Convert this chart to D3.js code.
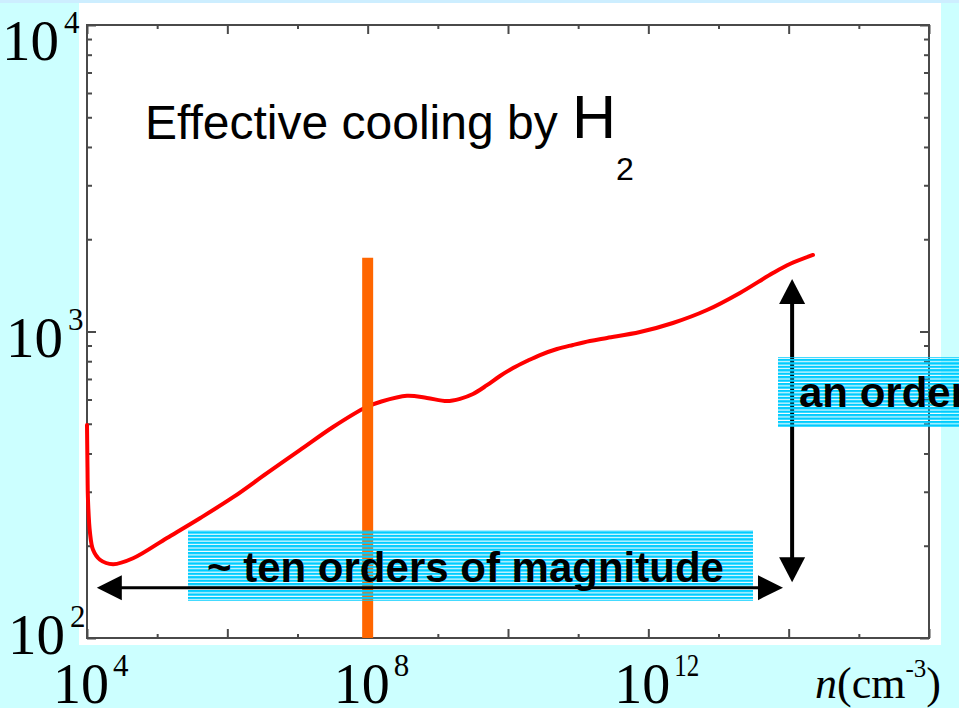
<!DOCTYPE html>
<html>
<head>
<meta charset="utf-8">
<script src="https://cdn.jsdelivr.net/npm/d3@7"></script>
<style>
  html, body { margin: 0; padding: 0; background: #ccffff; overflow: hidden; }
  svg { display: block; }
</style>
</head>
<body>
<svg id="chart" width="959" height="708"></svg>
<script>
// Density n (cm^-3) and effective temperature T (K) along the H2-cooling track
const density = [1e4, 1.016e4, 1.033e4, 1.104e4, 1.219e4, 1.531e4, 2.35e4, 4.53e4, 1.38e5,
  4.07e5, 1.21e6, 3.67e6, 1.08e7, 3.21e7, 9.77e7, 1.50e8, 3.63e8, 7.0e8, 1.35e9, 2.07e9,
  3.17e9, 5.01e9, 7.69e9, 1.18e10, 1.86e10, 2.86e10, 4.99e10, 8.43e10, 1.47e11, 2.58e11,
  7.60e11, 2.24e12, 6.86e12, 2.02e13, 5.97e13, 1.04e14, 2.22e14];
const temperature = [495, 361, 282, 220, 194, 180, 174, 182, 212,
  246, 288, 345, 410, 488, 568, 589, 617, 607, 593, 603,
  625, 668, 716, 760, 801, 838, 877, 904, 931, 953,
  996, 1066, 1175, 1336, 1552, 1660, 1777];

// Axis ticks
const xMajorTicks = [1e4, 1e6, 1e8, 1e10, 1e12, 1e14, 1e16];
const xMinorTicks = [1e5, 1e7, 1e9, 1e11, 1e13, 1e15];
const yMajorTicks = [1e2, 1e3, 1e4];
const yMinorTicks = [2e2, 3e2, 4e2, 5e2, 6e2, 7e2, 8e2, 9e2, 2e3, 3e3, 4e3, 5e3, 6e3, 7e3, 8e3, 9e3];
const xTickLabels = [{v: 1e4, exp: "4"}, {v: 1e8, exp: "8"}, {v: 1e12, exp: "12"}];
const yTickLabels = [{v: 1e4, exp: "4"}, {v: 1e3, exp: "3"}, {v: 1e2, exp: "2"}];

// Marked density and the two span annotations (data units)
const markedDensity = 1e8;
const markedTop = 1740;
const spanDensity = [1.38e4, 8.3e13];   // horizontal arrow ends
const spanDensityT = 146;
const spanTemp = [152, 1483];           // vertical arrow ends
const spanTempN = 1.12e14;

const svg = d3.select("#chart");
const W = 959, H = 708;
const frame = {left: 87, top: 25, right: 929, bottom: 638};

const x = d3.scaleLog().domain([1e4, 1e16]).range([frame.left, frame.right]);
const y = d3.scaleLog().domain([1e2, 1e4]).range([frame.bottom, frame.top]);

// Background and white panel
svg.append("rect").attr("width", W).attr("height", H).attr("fill", "#ccffff");
svg.append("rect").attr("x", 0).attr("y", 0).attr("width", W).attr("height", 3).attr("fill", "#cdeeff");
svg.append("rect").attr("x", 79).attr("y", 3).attr("width", 862).attr("height", 642).attr("fill", "#ffffff");

// Stripe pattern for the annotation boxes
const defs = svg.append("defs");
const pat = defs.append("pattern").attr("id", "stripes")
  .attr("patternUnits", "userSpaceOnUse").attr("width", 10).attr("height", 3.45);
pat.append("rect").attr("x", 0).attr("y", 0).attr("width", 10).attr("height", 2.35).attr("fill", "#00ccff");

// Ticks through d3 axes, pointing inward
function tickAxis(axis, values, size, tx, ty) {
  const g = svg.append("g").attr("transform", `translate(${tx},${ty})`)
    .call(axis.tickValues(values).tickSize(-size).tickSizeOuter(0).tickFormat(""));
  g.select(".domain").remove();
  g.selectAll(".tick line").attr("stroke", "#4a4a4a").attr("stroke-width", 2);
}
tickAxis(d3.axisBottom(x), xMajorTicks, 9, 0, frame.bottom);
tickAxis(d3.axisBottom(x), xMinorTicks, 4, 0, frame.bottom);
tickAxis(d3.axisTop(x), xMajorTicks, 9, 0, frame.top);
tickAxis(d3.axisTop(x), xMinorTicks, 4, 0, frame.top);
tickAxis(d3.axisLeft(y), yMajorTicks, 9, frame.left, 0);
tickAxis(d3.axisLeft(y), yMinorTicks, 5, frame.left, 0);
tickAxis(d3.axisRight(y), yMajorTicks, 9, frame.right, 0);
tickAxis(d3.axisRight(y), yMinorTicks, 5, frame.right, 0);

svg.append("rect")
  .attr("x", frame.left).attr("y", frame.top)
  .attr("width", frame.right - frame.left).attr("height", frame.bottom - frame.top)
  .attr("fill", "none").attr("stroke", "#4a4a4a").attr("stroke-width", 2);

// Temperature curve
const pts = density.map((n, i) => ({n, T: temperature[i]}));
svg.append("path")
  .datum(pts)
  .attr("d", d3.line().x(d => x(d.n)).y(d => y(d.T)).curve(d3.curveCatmullRom.alpha(0.5)))
  .attr("fill", "none").attr("stroke", "#ff0000").attr("stroke-width", 4)
  .attr("stroke-linecap", "round").attr("stroke-linejoin", "round");

// Marked density
svg.append("line")
  .attr("x1", x(markedDensity)).attr("x2", x(markedDensity))
  .attr("y1", y(markedTop)).attr("y2", y(100))
  .attr("stroke", "#ff6600").attr("stroke-width", 11);

// Double-headed arrows
function arrowV(xp, y1, y2, w, head, half) {
  const g = svg.append("g");
  g.append("line").attr("x1", xp).attr("x2", xp).attr("y1", y1 + head - 2).attr("y2", y2 - head + 2)
    .attr("stroke", "#000").attr("stroke-width", w);
  g.append("path").attr("d", `M${xp},${y1}L${xp - half},${y1 + head}L${xp + half},${y1 + head}Z`).attr("fill", "#000");
  g.append("path").attr("d", `M${xp},${y2}L${xp - half},${y2 - head}L${xp + half},${y2 - head}Z`).attr("fill", "#000");
}
function arrowH(yp, x1, x2, w, head, half) {
  const g = svg.append("g");
  g.append("line").attr("y1", yp).attr("y2", yp).attr("x1", x1 + head - 2).attr("x2", x2 - head + 2)
    .attr("stroke", "#000").attr("stroke-width", w);
  g.append("path").attr("d", `M${x1},${yp}L${x1 + head},${yp - half}L${x1 + head},${yp + half}Z`).attr("fill", "#000");
  g.append("path").attr("d", `M${x2},${yp}L${x2 - head},${yp - half}L${x2 - head},${yp + half}Z`).attr("fill", "#000");
}
arrowV(x(spanTempN), y(spanTemp[1]), y(spanTemp[0]), 4, 25, 13);

// Striped boxes
svg.append("rect").attr("x", 188).attr("y", 530).attr("width", 565).attr("height", 71).attr("fill", "url(#stripes)");
svg.append("rect").attr("x", 778).attr("y", 357).attr("width", 200).attr("height", 70).attr("fill", "url(#stripes)");

arrowH(y(spanDensityT), x(spanDensity[0]), x(spanDensity[1]), 3, 25, 12.5);

// Box texts
svg.append("text").attr("x", 207).attr("y", 582)
  .attr("font-family", "Liberation Sans, Arial, sans-serif").attr("font-weight", "bold")
  .attr("font-size", 42).attr("fill", "#000").text("~ ten orders of magnitude");
svg.append("text").attr("x", 799).attr("y", 407)
  .attr("font-family", "Liberation Sans, Arial, sans-serif").attr("font-weight", "bold")
  .attr("font-size", 42).attr("fill", "#000").text("an order");

// Title
const title = svg.append("text").attr("font-family", "Liberation Sans, Arial, sans-serif").attr("fill", "#000");
title.append("tspan").attr("x", 145).attr("y", 139).attr("font-size", 48).text("Effective cooling by ");
title.append("tspan").attr("x", 572).attr("y", 138).attr("font-size", 61).text("H");
title.append("tspan").attr("x", 616).attr("y", 180).attr("font-size", 32).text("2");

// Tick labels (powers of ten)
const serif = "Liberation Serif, Times New Roman, serif";
const yLabelPos = {4: {x: 2, base: 60}, 3: {x: 6, base: 357}, 2: {x: 8, base: 654}};
yTickLabels.forEach(d => {
  const p = yLabelPos[d.exp];
  const t = svg.append("text").attr("font-family", serif).attr("fill", "#000");
  t.append("tspan").attr("x", p.x).attr("y", p.base).attr("font-size", 57).text("10");
  t.append("tspan").attr("x", p.x + 62).attr("y", p.base - 27).attr("font-size", 31).text(d.exp);
});
xTickLabels.forEach(d => {
  const cx = x(d.v);
  const t = svg.append("text").attr("font-family", serif).attr("fill", "#000");
  const bx = cx - 34;
  t.append("tspan").attr("x", bx).attr("y", 703).attr("font-size", 56).text("10");
  const sup = t.append("tspan").attr("x", bx + 60).attr("y", 676).attr("font-size", 31).text(d.exp);
  if (d.exp.length > 1) sup.attr("textLength", 25).attr("lengthAdjust", "spacingAndGlyphs");
});

// Axis title n(cm^-3)
const xt = svg.append("text").attr("font-family", serif).attr("fill", "#000").attr("font-size", 44);
xt.append("tspan").attr("x", 815).attr("y", 698).attr("font-style", "italic").text("n");
xt.append("tspan").text("(cm");
xt.append("tspan").attr("font-size", 25).attr("dy", -21).text("-3");
xt.append("tspan").attr("dy", 21).text(")");
</script>
</body>
</html>
